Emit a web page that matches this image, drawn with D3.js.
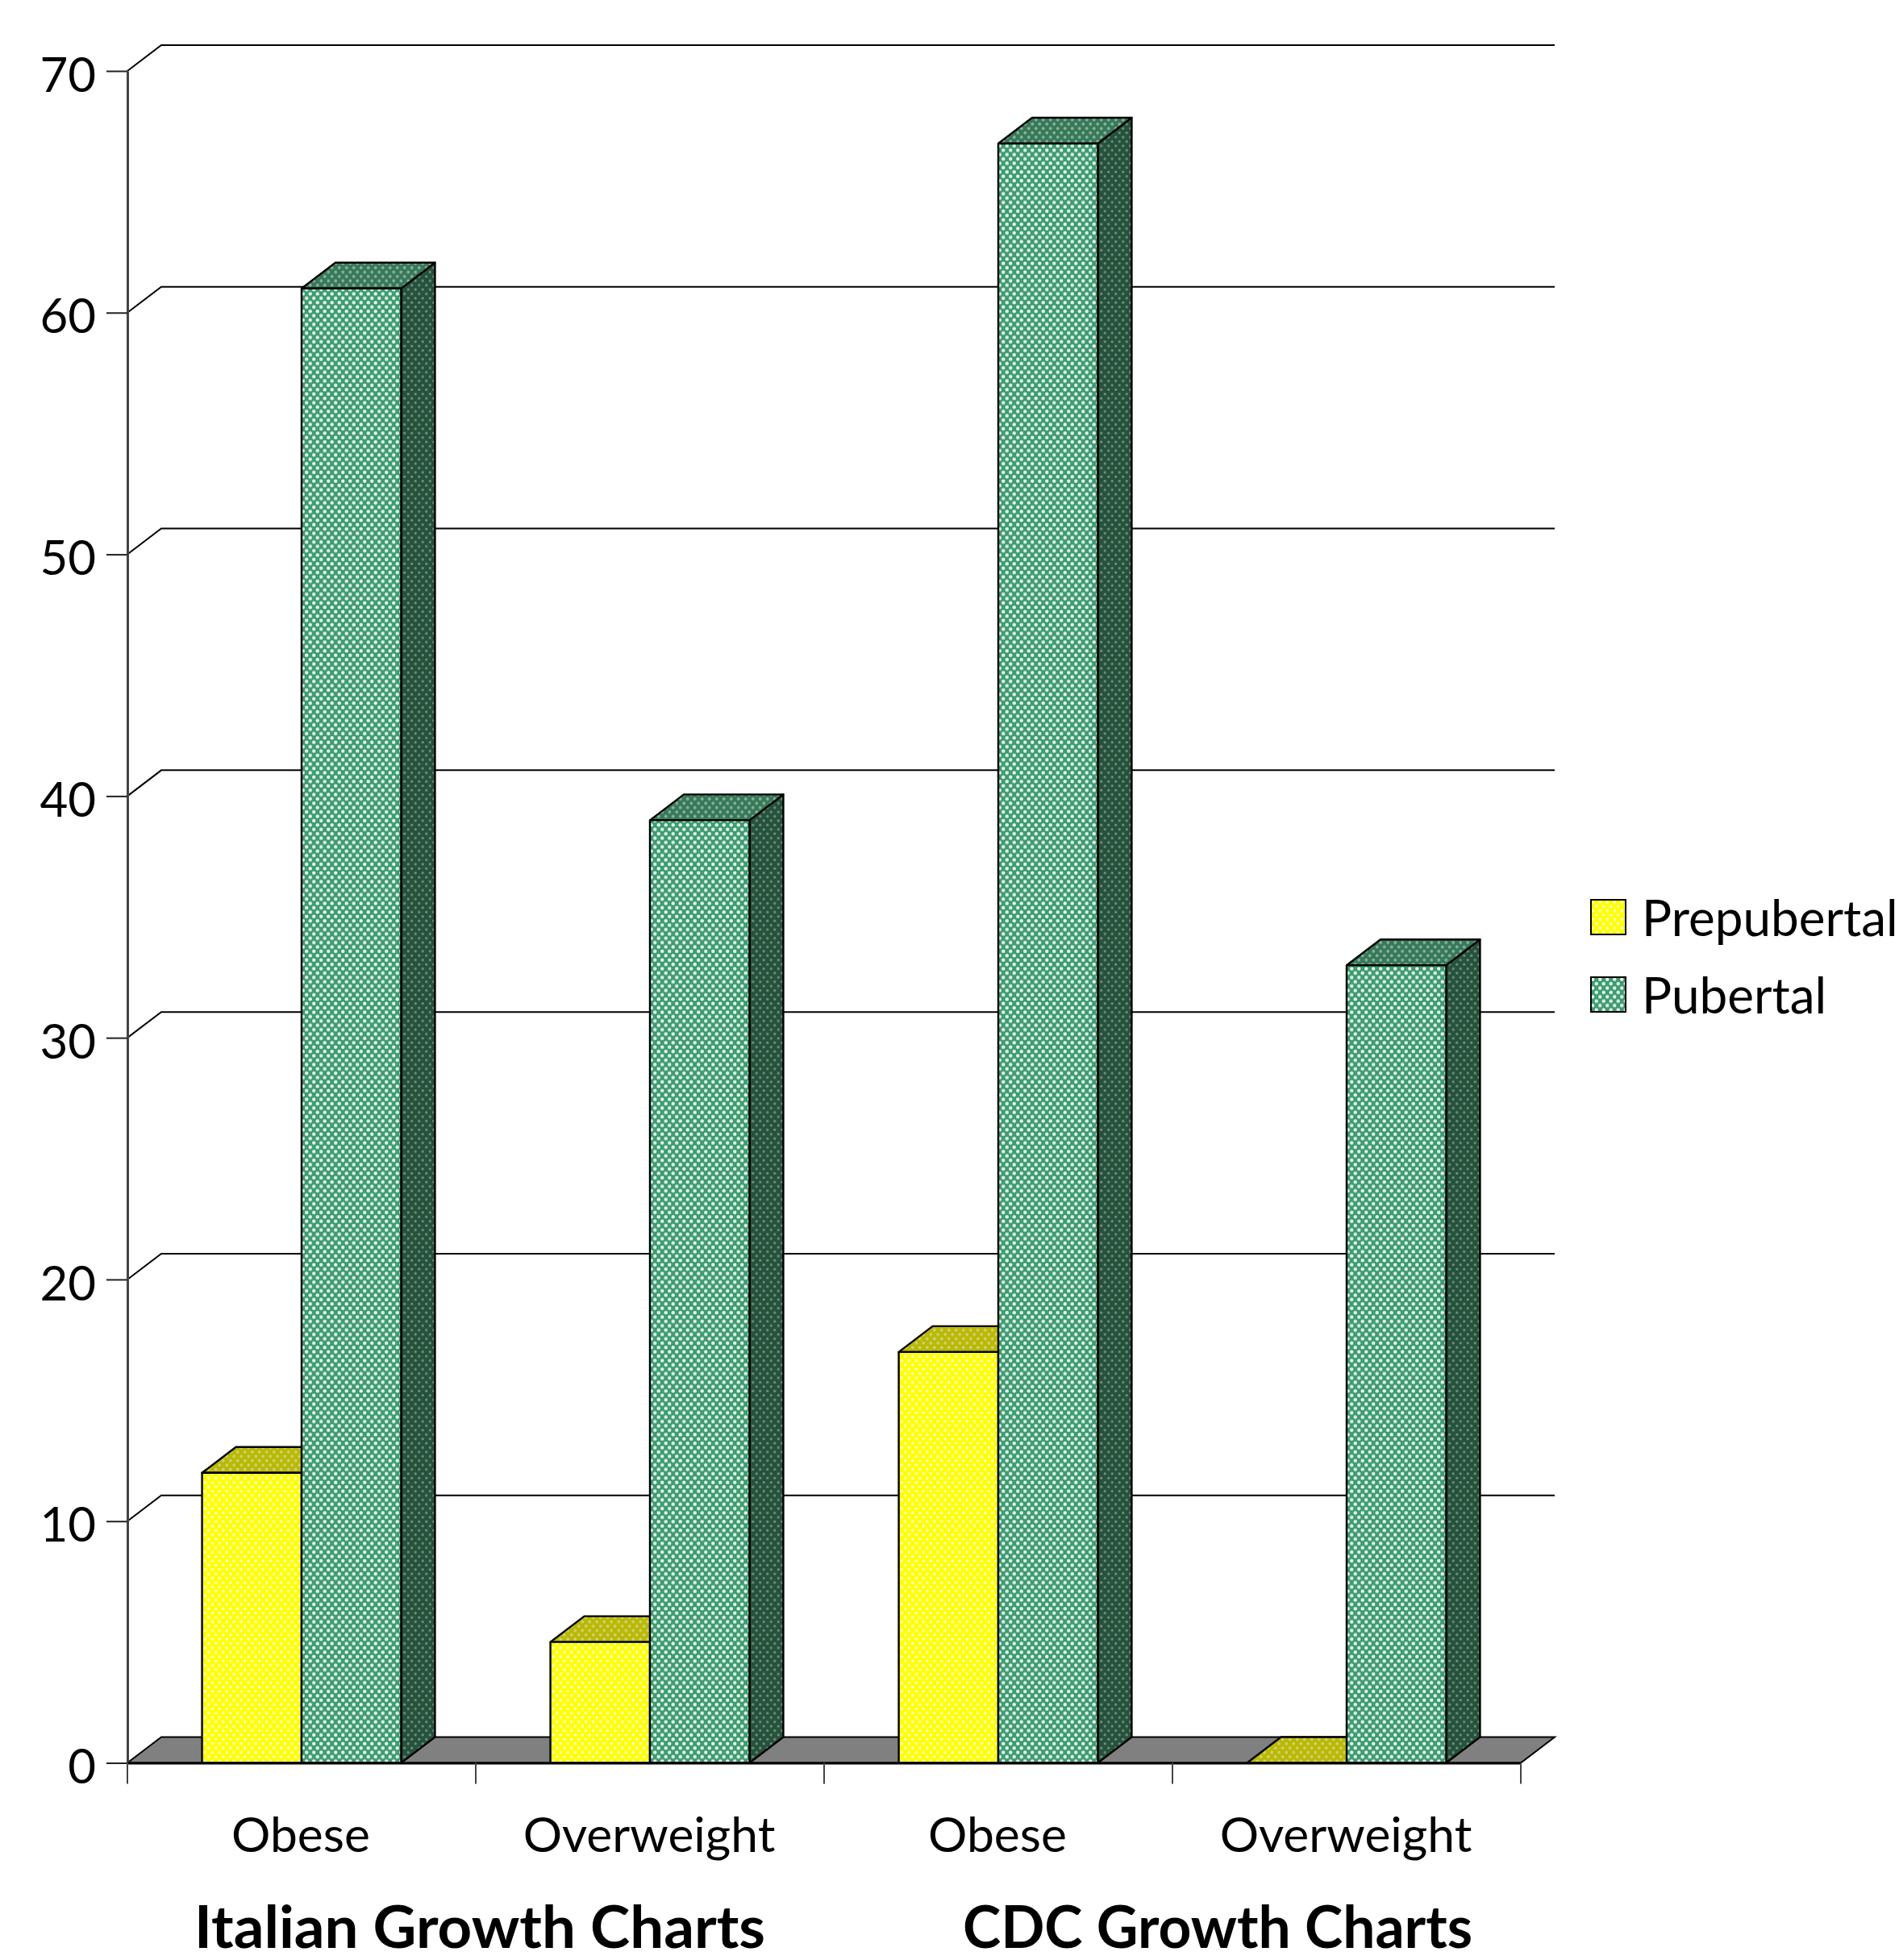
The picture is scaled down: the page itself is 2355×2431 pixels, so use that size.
<!DOCTYPE html>
<html>
<head>
<meta charset="utf-8">
<script src="https://cdn.jsdelivr.net/npm/d3@7"></script>
<style>
  body { margin: 0; background: #fff; }
  text { font-family: Lato, "Open Sans", sans-serif; fill: #000; }
</style>
</head>
<body>
<div id="root"></div>
<script>
const categories = ["Obese", "Overweight", "Obese", "Overweight"];
const seriesNames = ["Prepubertal", "Pubertal"];
const prepubertal = [12, 5, 17, 0];
const pubertal = [61, 39, 67, 33];
const yTicks = [0, 10, 20, 30, 40, 50, 60, 70];
const groupLabels = ["Italian Growth Charts", "CDC Growth Charts"];

const width = 2355;
const height = 2431;
const plot = { left: 158, right: 1886, top: 88, bottom: 2186.5 };
// depth of the fake 3d box
const dx = 42, dy = 32;

const svg = d3.select("#root").append("svg")
  .attr("width", width)
  .attr("height", height)
  .style("display", "block");

const y = d3.scaleLinear().domain([0, 70]).range([plot.bottom, plot.top]);
const x0 = d3.scaleBand().domain(d3.range(categories.length)).range([plot.left, plot.right]);
const x1 = d3.scaleBand().domain(seriesNames).range([0, x0.bandwidth()]).paddingOuter(0.75);

// dotted fills, like the office pattern fill
const defs = svg.append("defs");
function dots(id, base, dot, r) {
  const p = defs.append("pattern")
    .attr("id", id)
    .attr("patternUnits", "userSpaceOnUse")
    .attr("width", 9)
    .attr("height", 10.8);
  p.append("rect").attr("width", 9).attr("height", 10.8).attr("fill", base);
  p.append("circle").attr("cx", 2.25).attr("cy", 2.7).attr("r", r).attr("fill", dot);
  p.append("circle").attr("cx", 6.75).attr("cy", 8.1).attr("r", r).attr("fill", dot);
}
dots("yellowFront", "#ffff00", "#ffffc0", 1.9);
dots("yellowTop", "#b9b900", "#cfcf78", 1.9);
dots("greenFront", "#3d9c70", "#e6f3ec", 2.2);
dots("greenTop", "#357a58", "#8fae9d", 1.9);
dots("greenSide", "#24523a", "#6f8a7b", 1.7);

const seriesStyle = {
  Prepubertal: { front: "yellowFront", top: "yellowTop", side: "yellowTop" },
  Pubertal: { front: "greenFront", top: "greenTop", side: "greenSide" }
};

// gridlines with the step back at the wall
svg.append("g")
  .selectAll("path")
  .data(yTicks.filter((d) => d > 0))
  .enter()
  .append("path")
  .attr("fill", "none")
  .attr("stroke", "#000")
  .attr("stroke-width", 2)
  .attr("d", (d) => `M${plot.left},${y(d)}L${plot.left + dx},${y(d) - dy}H${plot.right + dx}`);

// floor
svg.append("path")
  .attr("fill", "#808080")
  .attr("stroke", "#000")
  .attr("stroke-width", 2)
  .attr("d", `M${plot.left},${plot.bottom}L${plot.left + dx},${plot.bottom - dy}H${plot.right + dx}L${plot.right},${plot.bottom}Z`);

// bars, left to right so each one hides the side of the previous
const bars = [];
categories.forEach((c, i) => {
  bars.push({ i, s: "Prepubertal", v: prepubertal[i] });
  bars.push({ i, s: "Pubertal", v: pubertal[i] });
});

const bar = svg.append("g")
  .selectAll("g")
  .data(bars)
  .enter()
  .append("g")
  .attr("stroke", "#000")
  .attr("stroke-width", 2.4)
  .attr("stroke-linejoin", "round");

const w = x1.bandwidth();
const barX = (d) => x0(d.i) + x1(d.s);

bar.append("path")
  .attr("fill", (d) => `url(#${seriesStyle[d.s].side})`)
  .attr("d", (d) => `M${barX(d) + w},${y(d.v)}l${dx},${-dy}V${plot.bottom - dy}l${-dx},${dy}Z`);
bar.append("path")
  .attr("fill", (d) => `url(#${seriesStyle[d.s].top})`)
  .attr("d", (d) => `M${barX(d)},${y(d.v)}l${dx},${-dy}h${w}l${-dx},${dy}Z`);
bar.append("rect")
  .attr("x", barX)
  .attr("y", (d) => y(d.v))
  .attr("width", w)
  .attr("height", (d) => plot.bottom - y(d.v))
  .attr("fill", (d) => `url(#${seriesStyle[d.s].front})`);

// y axis
const yAxis = svg.append("g")
  .attr("transform", `translate(${plot.left},0)`)
  .call(d3.axisLeft(y).tickValues(yTicks).tickSize(26).tickSizeOuter(0).tickPadding(13));
yAxis.select(".domain").attr("stroke", "#444").attr("stroke-width", 3);
yAxis.selectAll(".tick line").attr("stroke", "#222").attr("stroke-width", 2);
yAxis.selectAll(".tick text")
  .attr("dy", "0.42em")
  .style("font-size", "60px");

// x axis, labels sit at the band centres
const xAxis = svg.append("g")
  .attr("transform", `translate(0,${plot.bottom})`)
  .call(d3.axisBottom(x0).tickSize(0).tickPadding(0).tickFormat((i) => categories[i]));
xAxis.select(".domain").attr("stroke", "#000").attr("stroke-width", 3);
xAxis.selectAll(".tick text")
  .attr("x", -1)
  .attr("y", 110)
  .attr("dy", 0)
  .style("font-size", "60.5px");

// tick marks between the bands
svg.append("g")
  .selectAll("line")
  .data(d3.range(categories.length + 1))
  .enter()
  .append("line")
  .attr("x1", (i) => plot.left + i * x0.step())
  .attr("x2", (i) => plot.left + i * x0.step())
  .attr("y1", plot.bottom)
  .attr("y2", plot.bottom + 26)
  .attr("stroke", "#444")
  .attr("stroke-width", 2);

// group titles, squeezed to the width they have in the original
svg.selectAll(".group")
  .data(groupLabels)
  .enter()
  .append("text")
  .attr("class", "group")
  .attr("x", (d, i) => (i === 0 ? x0(1) + 5 : x0(3) + 56))
  .attr("y", 2416)
  .attr("text-anchor", "middle")
  .attr("textLength", (d, i) => (i === 0 ? 708 : 632))
  .attr("lengthAdjust", "spacingAndGlyphs")
  .style("font-size", "72px")
  .style("font-weight", 700)
  .text((d) => d);

// legend
const legend = svg.append("g")
  .selectAll("g")
  .data(seriesNames)
  .enter()
  .append("g")
  .attr("transform", (d, i) => `translate(1973,${1116 + i * 96})`);
legend.append("rect")
  .attr("width", 43)
  .attr("height", 43)
  .attr("fill", (d) => `url(#${seriesStyle[d].front})`)
  .attr("stroke", "#000")
  .attr("stroke-width", 2);
legend.append("text")
  .attr("x", 63)
  .attr("y", 45)
  .style("font-size", "62px")
  .text((d) => d);
</script>
</body>
</html>
